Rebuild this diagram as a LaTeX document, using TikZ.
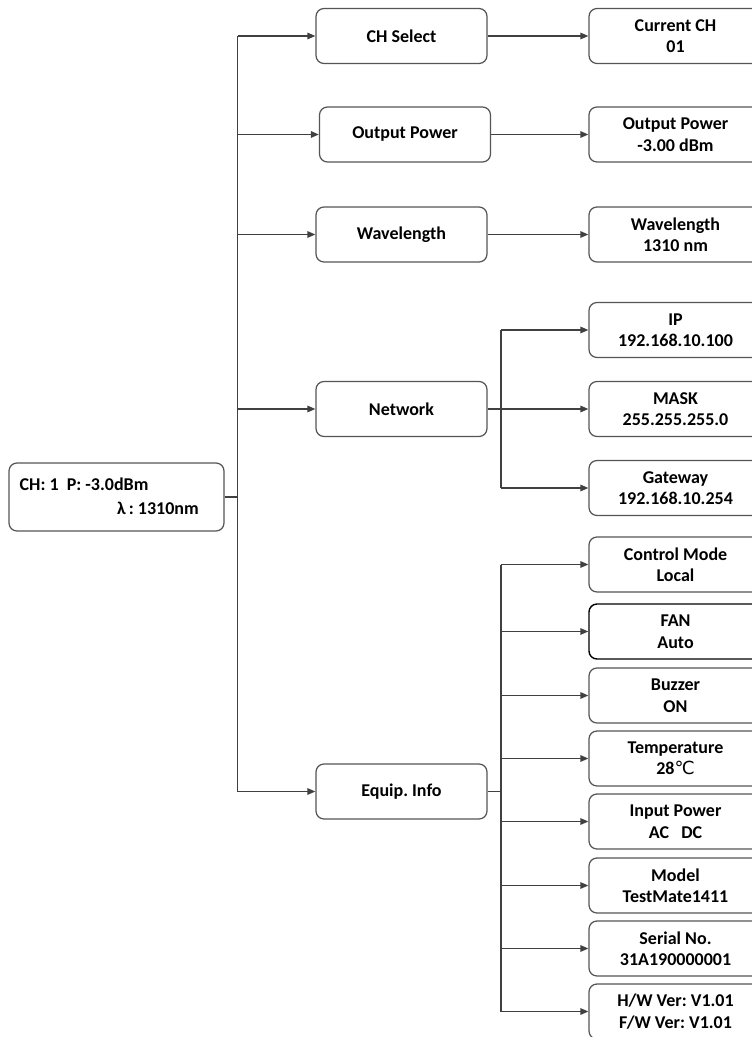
\documentclass[tikz,border=0pt]{standalone}
\usepackage{fontspec}
\setmainfont{Carlito}
\newfontfamily\djv{DejaVu Sans}
\usetikzlibrary{arrows.meta}
\definecolor{boxgray}{HTML}{555555}
\definecolor{linegray}{HTML}{404040}
\begin{document}
\frenchspacing
\begin{tikzpicture}[x=1pt,y=-1pt,
  box/.style={draw=boxgray, line width=1.25pt, rounded corners=8pt, minimum width=171pt, minimum height=55pt, align=center, inner sep=0pt, font=\bfseries\fontsize{18}{21.5}\selectfont},
  rbox/.style={box, minimum width=173pt},
  conn/.style={draw=linegray, line width=1.5pt},
  arr/.style={conn, -{Triangle[length=8pt,width=6.5pt]}},
  txt/.style={inner sep=0pt, anchor=base west, font=\bfseries\fontsize{18}{21.5}\selectfont}]
\useasboundingbox (0,0) rectangle (752,1037);
\clip (0,0) rectangle (752,1037);
\fill[white] (0,0) rectangle (752,1037);

% root
\node[box, minimum width=215pt, minimum height=68pt] (root) at (116.5,497) {};
\node[txt] (rt1) at (19.5,490.5) {CH: 1\ \ P: -3.0dBm};
\node[txt] (rt2) at (117,514) {λ\,: 1310nm};

% level 1
\node[box] (cs) at (401.5,36) {CH Select};
\node[box] (op) at (405,134.5) {Output Power};
\node[box] (wl) at (401.5,234.5) {Wavelength};
\node[box] (nw) at (401.5,409) {Network};
\node[box] (eq) at (401.5,791.5) {Equip. Info};

% level 2
\node[rbox] (cc) at (675.5,36) {Current CH\\01};
\node[rbox] (opv) at (675.5,134.5) {Output Power\\-3.00 dBm};
\node[rbox] (wlv) at (675.5,234.5) {Wavelength\\1310 nm};
\node[rbox] (ip) at (675.5,330) {IP\\192.168.10.100};
\node[rbox] (mask) at (675.5,409) {MASK\\255.255.255.0};
\node[rbox] (gw) at (675.5,488) {Gateway\\192.168.10.254};

\node[rbox] (cm) at (675.5,564.5) {Control Mode\\Local};
\node[rbox, draw=black, line width=1.4pt] (fan) at (675.5,631.5) {FAN\\Auto};
\node[rbox] (bz) at (675.5,695.5) {Buzzer\\ON};
\node[rbox] (tp) at (675.5,758.5) {Temperature\\28{\djv\mdseries ℃}};
\node[rbox] (inp) at (675.5,821.5) {Input Power\\AC\ \ \ DC};
\node[rbox] (md) at (675.5,885.5) {Model\\TestMate1411};
\node[rbox] (sn) at (675.5,948.5) {Serial No.\\31A190000001};
\node[rbox] (hw) at (675.5,1011.5) {H/W Ver: V1.01\\F/W Ver: V1.01};

% main bus
\coordinate (b0) at (237.5,497);
\coordinate (btop) at (237.5,36);
\coordinate (bbot) at (237.5,791.5);
\draw[conn] (root.east) -- (b0);
\draw[conn] (btop) -- (bbot);
\draw[arr] (btop) -- (cs.west);
\draw[arr] (btop |- op.west) -- (op.west);
\draw[arr] (btop |- wl.west) -- (wl.west);
\draw[arr] (btop |- nw.west) -- (nw.west);
\draw[arr] (bbot) -- (eq.west);

% level 1 to level 2
\draw[arr] (cs.east) -- (cc.west);
\draw[arr] (op.east) -- (opv.west);
\draw[arr] (wl.east) -- (wlv.west);

% network bus
\coordinate (nb) at (501,409);
\draw[conn] (nw.east) -- (nb);
\draw[conn] (nb |- ip.west) -- (nb |- gw.west);
\draw[arr] (nb |- ip.west) -- (ip.west);
\draw[arr] (nb) -- (mask.west);
\draw[arr] (nb |- gw.west) -- (gw.west);

% equip bus
\coordinate (eb) at (501,791.5);
\draw[conn] (eq.east) -- (eb);
\draw[conn] (eb |- cm.west) -- (eb |- hw.west);
\foreach \n in {cm,fan,bz,tp,inp,md,sn,hw}{
  \draw[arr] (eb |- \n.west) -- (\n.west);
}
\end{tikzpicture}
\end{document}
